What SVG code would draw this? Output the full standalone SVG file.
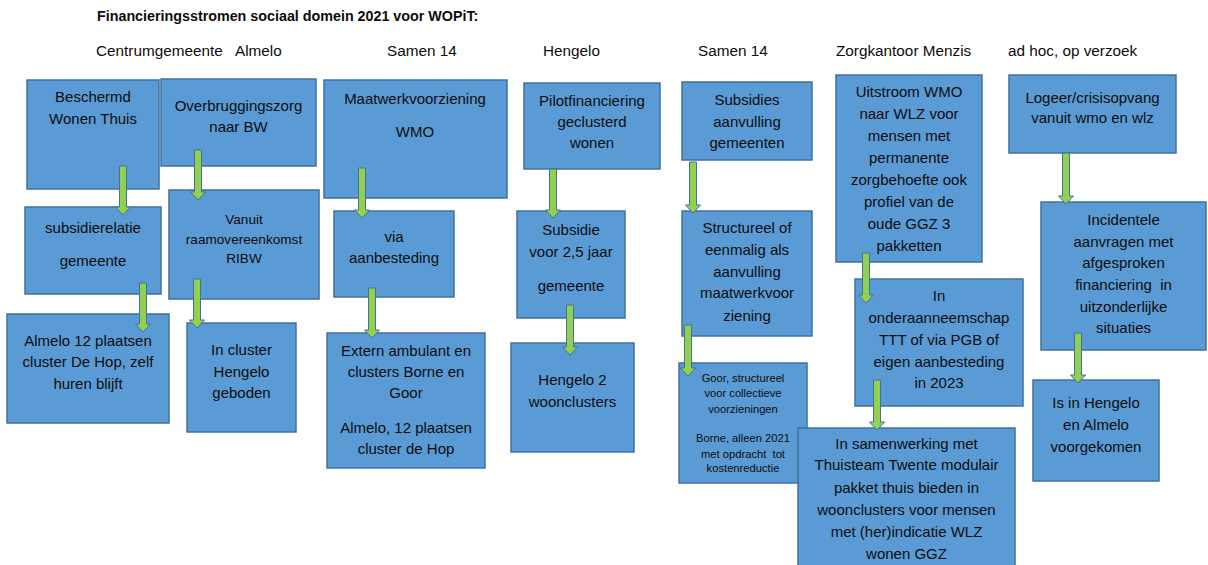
<svg xmlns="http://www.w3.org/2000/svg" width="1208" height="565" viewBox="0 0 1208 565">
<style>
  text { font-family: "Liberation Sans", Arial, sans-serif; fill: #0d0d0d; }
  .title { font-size: 14.3px; font-weight: bold; }
  .hdr { font-size: 15.3px; }
  .box rect { fill: #5B9BD5; stroke: #41719C; stroke-width: 1.5; }
  .box text { font-size: 15px; text-anchor: middle; }
  .box text.s13 { font-size: 13.6px; }
  .box text.s10 { font-size: 11.2px; }
  .arr path { fill: #92D050; stroke: #41719C; stroke-width: 1; }
</style>
<rect width="1208" height="565" fill="#fff"/>
<text class="title" x="97" y="21">Financieringsstromen sociaal domein 2021 voor WOPiT:</text>
<text class="hdr" x="96" y="56">Centrumgemeente</text>
<text class="hdr" x="235" y="56">Almelo</text>
<text class="hdr" x="387" y="56">Samen 14</text>
<text class="hdr" x="543" y="56">Hengelo</text>
<text class="hdr" x="698" y="56">Samen 14</text>
<text class="hdr" x="836" y="56">Zorgkantoor Menzis</text>
<text class="hdr" x="1008" y="56">ad hoc, op verzoek</text>

<g id="n1" class="box"><rect x="27" y="80" width="132" height="109"/>
  <text x="93" y="102">Beschermd</text><text x="93" y="124">Wonen Thuis</text></g>
<g id="n2" class="box"><rect x="161" y="79" width="155" height="87"/>
  <text x="238.5" y="111">Overbruggingszorg</text><text x="238.5" y="132">naar BW</text></g>
<g id="n3" class="box"><rect x="25" y="207" width="136" height="87"/>
  <text x="93" y="233">subsidierelatie</text><text x="93" y="266">gemeente</text></g>
<g id="n4" class="box"><rect x="169" y="190" width="150" height="109"/>
  <text class="s13" x="244" y="224">Vanuit</text><text class="s13" x="244" y="244">raamovereenkomst</text><text class="s13" x="244" y="263">RIBW</text></g>
<g id="n5" class="box"><rect x="7" y="314" width="162" height="109"/>
  <text x="88" y="346">Almelo 12 plaatsen</text><text x="88" y="367">cluster De Hop, zelf</text><text x="88" y="389">huren blijft</text></g>
<g id="n6" class="box"><rect x="187" y="323" width="109" height="109"/>
  <text x="241.5" y="355">In cluster</text><text x="241.5" y="377">Hengelo</text><text x="241.5" y="398">geboden</text></g>
<g id="n7" class="box"><rect x="324" y="80" width="183" height="118"/>
  <text x="415" y="104">Maatwerkvoorziening</text><text x="415" y="137">WMO</text></g>
<g id="n8" class="box"><rect x="334" y="211" width="120" height="86"/>
  <text x="394" y="242">via</text><text x="394" y="263">aanbesteding</text></g>
<g id="n9" class="box"><rect x="327" y="333" width="158" height="135"/>
  <text x="406" y="356">Extern ambulant en</text><text x="406" y="377">clusters Borne en</text><text x="406" y="398">Goor</text>
  <text x="406" y="433">Almelo, 12 plaatsen</text><text x="406" y="454">cluster de Hop</text></g>
<g id="n10" class="box"><rect x="524" y="83" width="136" height="86"/>
  <text x="592" y="106">Pilotfinanciering</text><text x="592" y="127">geclusterd</text><text x="592" y="148">wonen</text></g>
<g id="n11" class="box"><rect x="517" y="211" width="108" height="107"/>
  <text x="571" y="235">Subsidie</text><text x="571" y="257">voor 2,5 jaar</text><text x="571" y="291">gemeente</text></g>
<g id="n12" class="box"><rect x="511" y="343" width="123" height="109"/>
  <text x="572.5" y="385">Hengelo 2</text><text x="572.5" y="407">woonclusters</text></g>
<g id="n13" class="box"><rect x="682" y="82" width="130" height="78"/>
  <text x="747" y="105">Subsidies</text><text x="747" y="127">aanvulling</text><text x="747" y="148">gemeenten</text></g>
<g id="n14" class="box"><rect x="682" y="211" width="130" height="125"/>
  <text x="747" y="233">Structureel of</text><text x="747" y="255">eenmalig als</text><text x="747" y="277">aanvulling</text><text x="747" y="298">maatwerkvoor</text><text x="747" y="321">ziening</text></g>
<g id="n15" class="box"><rect x="679" y="363" width="128" height="120"/>
  <text class="s10" x="743" y="382">Goor, structureel</text><text class="s10" x="743" y="397">voor collectieve</text><text class="s10" x="743" y="413">voorzieningen</text>
  <text class="s10" x="743" y="442">Borne, alleen 2021</text><text class="s10" x="743" y="458" xml:space="preserve">met opdracht  tot</text><text class="s10" x="743" y="472">kostenreductie</text></g>
<g id="n16" class="box"><rect x="836" y="75" width="146" height="187"/>
  <text x="909" y="97">Uitstroom WMO</text><text x="909" y="119">naar WLZ voor</text><text x="909" y="141">mensen met</text><text x="909" y="163">permanente</text>
  <text x="909" y="185">zorgbehoefte ook</text><text x="909" y="207">profiel van de</text><text x="909" y="229">oude GGZ 3</text><text x="909" y="251">pakketten</text></g>
<g id="n17" class="box"><rect x="855" y="279" width="168" height="127"/>
  <text x="939" y="301">In</text><text x="939" y="323">onderaanneemschap</text><text x="939" y="345">TTT of via PGB of</text><text x="939" y="367">eigen aanbesteding</text><text x="939" y="388">in 2023</text></g>
<g id="n18" class="box"><rect x="798" y="428" width="217" height="145"/>
  <text x="906.5" y="449">In samenwerking met</text><text x="906.5" y="470">Thuisteam Twente modulair</text><text x="906.5" y="493">pakket thuis bieden in</text>
  <text x="906.5" y="515">woonclusters voor mensen</text><text x="906.5" y="537">met (her)indicatie WLZ</text><text x="906.5" y="559">wonen GGZ</text></g>
<g id="n19" class="box"><rect x="1009" y="75" width="167" height="78"/>
  <text x="1092.5" y="103">Logeer/crisisopvang</text><text x="1092.5" y="123">vanuit wmo en wlz</text></g>
<g id="n20" class="box"><rect x="1041" y="202" width="165" height="148"/>
  <text x="1123.5" y="225">Incidentele</text><text x="1123.5" y="247">aanvragen met</text><text x="1123.5" y="268">afgesproken</text>
  <text x="1123.5" y="290" xml:space="preserve">financiering  in</text><text x="1123.5" y="312">uitzonderlijke</text><text x="1123.5" y="333">situaties</text></g>
<g id="n21" class="box"><rect x="1033" y="380" width="126" height="101"/>
  <text x="1096" y="408">Is in Hengelo</text><text x="1096" y="430">en Almelo</text><text x="1096" y="452">voorgekomen</text></g>

<g id="connectors" class="arr">
  <path d="M119.5,166 h7 v41 h4 l-7.5,8 l-7.5,-8 h4 z"/>
  <path d="M194.5,150 h7 v42 h4 l-7.5,8 l-7.5,-8 h4 z"/>
  <path d="M139.5,283 h7 v41 h4 l-7.5,8 l-7.5,-8 h4 z"/>
  <path d="M193.5,279 h7 v41 h4 l-7.5,8 l-7.5,-8 h4 z"/>
  <path d="M358.5,168 h7 v42 h4 l-7.5,8 l-7.5,-8 h4 z"/>
  <path d="M368.5,288 h7 v42 h4 l-7.5,8 l-7.5,-8 h4 z"/>
  <path d="M549.5,169 h7 v41 h4 l-7.5,8 l-7.5,-8 h4 z"/>
  <path d="M566.5,305 h7 v42 h4 l-7.5,8 l-7.5,-8 h4 z"/>
  <path d="M689.5,162 h7 v43 h4 l-7.5,8 l-7.5,-8 h4 z"/>
  <path d="M684.5,325 h7 v43 h4 l-7.5,8 l-7.5,-8 h4 z"/>
  <path d="M862.5,253 h7 v42 h4 l-7.5,8 l-7.5,-8 h4 z"/>
  <path d="M873.5,380 h7 v42 h4 l-7.5,8 l-7.5,-8 h4 z"/>
  <path d="M1062.5,153 h7 v43 h4 l-7.5,8 l-7.5,-8 h4 z"/>
  <path d="M1074.5,333 h7 v42 h4 l-7.5,8 l-7.5,-8 h4 z"/>
</g>
</svg>
